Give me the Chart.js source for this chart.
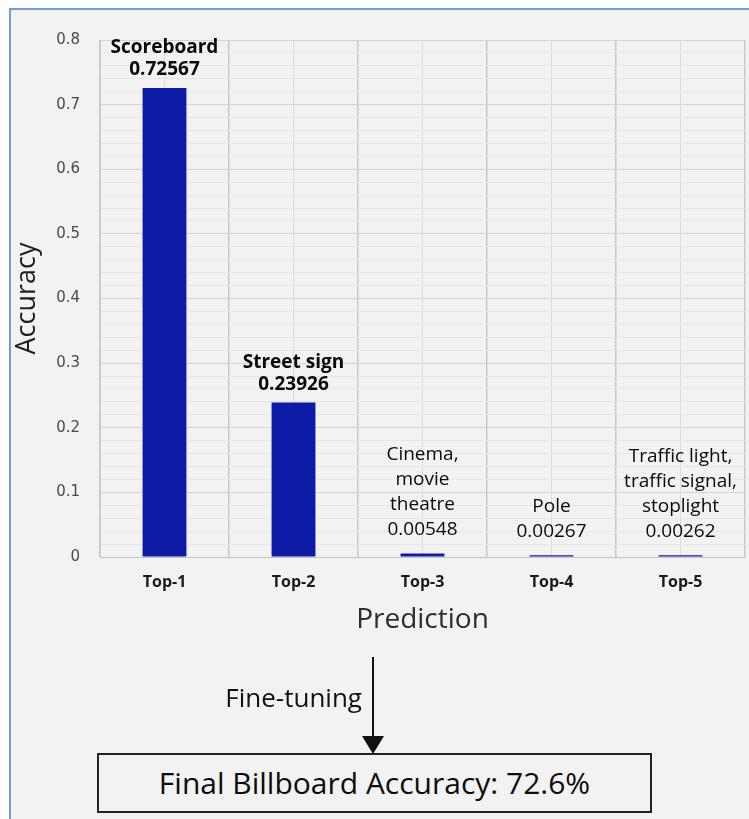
<!DOCTYPE html>
<html>
<head>
<meta charset="utf-8">
<script src="https://cdn.jsdelivr.net/npm/chart.js@4/dist/chart.umd.min.js"></script>
<style>
  html, body { margin: 0; padding: 0; background: #ffffff; }
  body { width: 749px; height: 819px; position: relative; overflow: hidden; font-family: "Open Sans", sans-serif; }
  #frame { position: absolute; left: 9px; top: 8px; width: 800px; height: 900px; border: 2px solid #6d9fd6; background: #f2f2f2; box-sizing: border-box; }
  #chart { position: absolute; left: 0; top: 0; }
  #arrowShaft { position: absolute; left: 372px; top: 657px; width: 2px; height: 82px; background: #111; }
  #arrowHead { position: absolute; left: 362px; top: 736px; width: 0; height: 0; border-left: 11px solid transparent; border-right: 11px solid transparent; border-top: 18px solid #111; }
  #step { position: absolute; left: 150px; width: 212px; top: 680px; text-align: right; font-size: 26px; line-height: 34px; color: #111; }
  #result { position: absolute; left: 97px; top: 753px; width: 555px; height: 60px; border: 2px solid #222; box-sizing: border-box; text-align: center; font-size: 30px; line-height: 56px; color: #0d0d0d; background: #f2f2f2; }
</style>
</head>
<body>
<div id="frame"></div>
<canvas id="chart" width="749" height="819"></canvas>
<div id="arrowShaft"></div>
<div id="arrowHead"></div>
<div id="step">Fine-tuning</div>
<div id="result">Final Billboard Accuracy: 72.6%</div>
<script>
// Top-5 predictions of the pre-trained classifier
const categories = ['Top-1', 'Top-2', 'Top-3', 'Top-4', 'Top-5'];
const accuracy = [0.72567, 0.23926, 0.00548, 0.00267, 0.00262];
const predictionNames = [
  ['Scoreboard'],
  ['Street sign'],
  ['Cinema,', 'movie', 'theatre'],
  ['Pole'],
  ['Traffic light,', 'traffic signal,', 'stoplight']
];
const labelBold = [true, true, false, false, false];

// value axis
const yMin = 0;
const yMax = 0.8;
const yMajorStep = 0.1;
const yMinorStep = 0.02;

const isMajor = (v) => {
  const k = Math.round(v / yMajorStep);
  return Math.abs(v - k * yMajorStep) < 1e-6;
};

// Prediction name and score written above each bar
const barLabels = {
  id: 'barLabels',
  afterDatasetsDraw(chart) {
    const ctx = chart.ctx;
    const meta = chart.getDatasetMeta(0);
    ctx.save();
    ctx.textAlign = 'center';
    ctx.textBaseline = 'middle';
    ctx.fillStyle = '#0a0a0a';
    meta.data.forEach((bar, i) => {
      const bold = labelBold[i];
      const lines = predictionNames[i].concat([String(accuracy[i])]);
      const gap = bold ? 18 : 24;
      const step = bold ? 22 : 25;
      ctx.font = (bold ? 'bold ' : '500 ') + '19px "Open Sans"';
      lines.forEach((text, k) => {
        const y = bar.y - gap - (lines.length - 1 - k) * step;
        ctx.fillText(text, bar.x, y);
      });
    });
    ctx.restore();
  }
};

new Chart(document.getElementById('chart'), {
  type: 'bar',
  data: {
    labels: categories,
    datasets: [{
      data: accuracy,
      backgroundColor: '#0c1ca6',
      borderWidth: 0,
      categoryPercentage: 1,
      barPercentage: 0.34
    }]
  },
  options: {
    responsive: false,
    animation: false,
    events: [],
    layout: { padding: { left: 10, right: 4, top: 40, bottom: 172 } },
    plugins: {
      legend: { display: false },
      tooltip: { enabled: false }
    },
    scales: {
      x: {
        type: 'category',
        offset: true,
        grid: { offset: true, color: '#c8c8c8', lineWidth: 1.5, drawTicks: false },
        border: { color: '#c4c4c4', width: 1 },
        ticks: {
          padding: 16,
          color: '#1a1a1a',
          font: { family: '"Open Sans"', size: 16, weight: 'bold' }
        },
        title: {
          display: true,
          text: 'Prediction',
          color: '#2e2e2e',
          font: { family: '"Open Sans"', size: 28, weight: 'normal' },
          padding: { top: 0, bottom: 10 }
        },
        afterFit(scale) { scale.height = 90; }
      },
      xMid: {
        type: 'category',
        position: 'bottom',
        offset: true,
        grid: { offset: false, color: '#dcdcdc', lineWidth: 1, drawTicks: false },
        border: { display: false },
        ticks: { display: false },
        afterFit(scale) { scale.height = 0; }
      },
      y: {
        min: yMin,
        max: yMax,
        grid: {
          drawTicks: false,
          color: (c) => (c.tick && isMajor(c.tick.value) ? '#d4d4d4' : '#e7e7e7')
        },
        border: { color: '#d0d0d0', width: 1 },
        ticks: {
          stepSize: yMinorStep,
          autoSkip: false,
          maxTicksLimit: 100,
          padding: 20,
          color: '#4a4a4a',
          font: { family: '"DejaVu Sans"', size: 15 },
          callback: (v) => (isMajor(v) ? (Math.abs(v) < 1e-9 ? '0' : v.toFixed(1)) : '')
        },
        title: {
          display: true,
          text: 'Accuracy',
          color: '#1e1e1e',
          font: { family: '"Open Sans"', size: 27, weight: 'normal' },
          padding: { top: 1, bottom: 0 }
        },
        afterFit(scale) { scale.width = 90; }
      }
    }
  },
  plugins: [barLabels]
});
</script>
</body>
</html>
